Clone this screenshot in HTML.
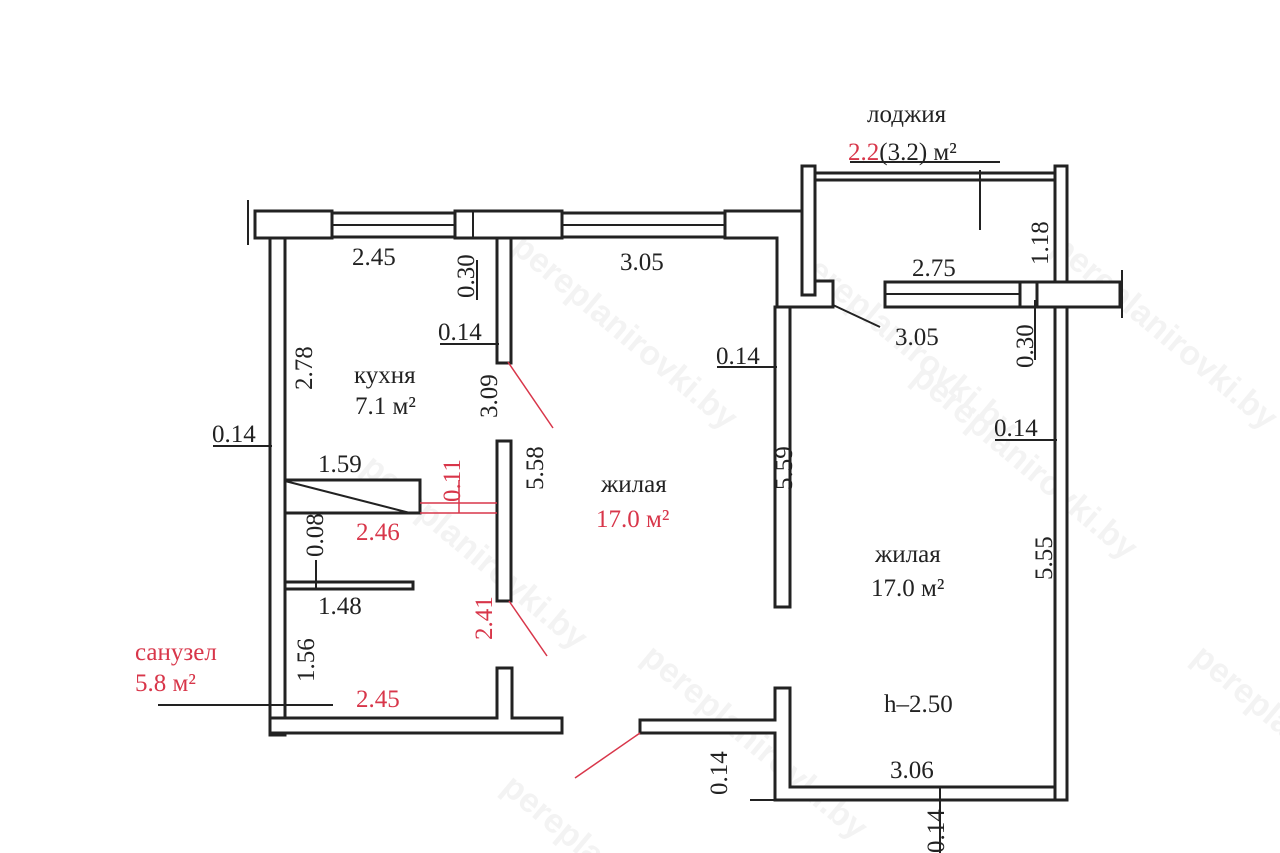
<!DOCTYPE html>
<html><head><meta charset="utf-8"><style>
html,body{margin:0;padding:0;background:#fff;width:1280px;height:853px;overflow:hidden}
svg{display:block}
text{font-family:"Liberation Serif",serif;font-size:25px;fill:#222}
.r{fill:#d8364a}
.w{fill:#fff;stroke:#222;stroke-width:3}
.l{stroke:#222;stroke-width:2;fill:none}
.rl{stroke:#d8364a;stroke-width:1.5;fill:none}
.wm{font-family:"Liberation Sans",sans-serif;font-size:34px;font-weight:bold;fill:#f3f3f3}
</style></head><body>
<svg width="1280" height="853" viewBox="0 0 1280 853">
<g>
<text class="wm" transform="translate(510,250) rotate(40)">pereplanirovki.by</text>
<text class="wm" transform="translate(790,260) rotate(40)">pereplanirovki.by</text>
<text class="wm" transform="translate(910,380) rotate(40)">pereplanirovki.by</text>
<text class="wm" transform="translate(1050,250) rotate(40)">pereplanirovki.by</text>
<text class="wm" transform="translate(360,470) rotate(40)">pereplanirovki.by</text>
<text class="wm" transform="translate(640,660) rotate(40)">pereplanirovki.by</text>
<text class="wm" transform="translate(500,790) rotate(40)">pereplanirovki.by</text>
<text class="wm" transform="translate(1190,660) rotate(40)">pereplanirovki.by</text>
</g>
<rect class="w" x="255" y="211" width="77" height="27"/>
<rect class="w" x="332" y="213" width="123" height="24"/>
<line class="l" x1="332" y1="225" x2="455" y2="225"/>
<rect class="w" x="455" y="211" width="107" height="27"/>
<line class="l" x1="473" y1="211" x2="473" y2="238"/>
<rect class="w" x="562" y="213" width="163" height="24"/>
<line class="l" x1="562" y1="225" x2="725" y2="225"/>
<path class="w" d="M725 211 H802 V281 H833 V307 H777 V238 H725 Z"/>
<line class="l" x1="248" y1="200" x2="248" y2="245"/>
<rect class="w" x="802" y="166" width="13" height="129"/>
<path class="l" d="M802 295 H815"/>
<rect class="w" x="815" y="173" width="240" height="7"/>
<rect class="w" x="1055" y="166" width="12" height="634"/>
<line class="l" x1="980" y1="170" x2="980" y2="230"/>
<rect class="w" x="885" y="282" width="135" height="25"/>
<line class="l" x1="885" y1="294" x2="1020" y2="294"/>
<rect class="w" x="1020" y="282" width="17" height="25"/>
<rect class="w" x="1037" y="282" width="83" height="25"/>
<line class="l" x1="1122" y1="270" x2="1122" y2="318"/>
<line class="l" x1="833" y1="305" x2="880" y2="327"/>
<rect class="w" x="270" y="238" width="15" height="497"/>
<path class="w" d="M270 718 H497 V668 H512 V718 H562 V733 H270 Z"/>
<rect class="w" x="497" y="238" width="14" height="125"/>
<rect class="w" x="497" y="441" width="14" height="160"/>
<rect class="w" x="775" y="307" width="15" height="300"/>
<path class="w" d="M640 720 H775 V688 H790 V787 H1055 V800 H775 V733 H640 Z"/>
<line class="l" x1="940" y1="787" x2="940" y2="853"/>
<line class="l" x1="750" y1="800" x2="800" y2="800"/>
<rect class="w" x="285" y="480" width="135" height="33"/>
<line class="l" x1="285" y1="481" x2="410" y2="513"/>
<rect class="w" x="285" y="582" width="128" height="7"/>
<line class="l" x1="316" y1="560" x2="316" y2="590"/>
<line class="rl" x1="420" y1="503" x2="497" y2="503"/>
<line class="rl" x1="420" y1="513" x2="497" y2="513"/>
<line class="rl" x1="459" y1="480" x2="459" y2="513"/>
<line class="rl" x1="508" y1="362" x2="553" y2="428"/>
<line class="rl" x1="509" y1="601" x2="547" y2="656"/>
<line class="rl" x1="640" y1="733" x2="575" y2="778"/>
<line class="l" x1="213" y1="446" x2="272" y2="446"/>
<line class="l" x1="440" y1="344" x2="499" y2="344"/>
<line class="l" x1="717" y1="367" x2="777" y2="367"/>
<line class="l" x1="995" y1="440" x2="1057" y2="440"/>
<line class="l" x1="158" y1="705" x2="333" y2="705"/>
<line class="l" x1="850" y1="162" x2="1000" y2="162"/>
<line class="l" x1="477" y1="260" x2="477" y2="300"/>
<line class="l" x1="1035" y1="300" x2="1035" y2="360"/>
<text x="867" y="122">лоджия</text>
<text x="848" y="160"><tspan class="r">2.2</tspan>(3.2) м²</text>
<text x="352" y="265">2.45</text>
<text x="620" y="270">3.05</text>
<text x="912" y="276">2.75</text>
<text x="895" y="345">3.05</text>
<text x="438" y="340">0.14</text>
<text x="716" y="364">0.14</text>
<text x="994" y="436">0.14</text>
<text x="212" y="442">0.14</text>
<text x="318" y="472">1.59</text>
<text x="318" y="614">1.48</text>
<text x="354" y="383">кухня</text>
<text x="355" y="414">7.1 м²</text>
<text x="601" y="492">жилая</text>
<text class="r" x="596" y="527">17.0 м²</text>
<text x="875" y="562">жилая</text>
<text x="871" y="596">17.0 м²</text>
<text x="884" y="712">h–2.50</text>
<text x="890" y="778">3.06</text>
<text class="r" x="135" y="660">санузел</text>
<text class="r" x="135" y="691">5.8 м²</text>
<text class="r" x="356" y="540">2.46</text>
<text class="r" x="356" y="707">2.45</text>
<text transform="translate(474,298) rotate(-90)">0.30</text>
<text transform="translate(312,390) rotate(-90)">2.78</text>
<text transform="translate(497,418) rotate(-90)">3.09</text>
<text transform="translate(543,490) rotate(-90)">5.58</text>
<text transform="translate(792,490) rotate(-90)">5.59</text>
<text transform="translate(1048,265) rotate(-90)">1.18</text>
<text transform="translate(1033,368) rotate(-90)">0.30</text>
<text transform="translate(1052,580) rotate(-90)">5.55</text>
<text transform="translate(323,557) rotate(-90)">0.08</text>
<text transform="translate(314,682) rotate(-90)">1.56</text>
<text transform="translate(727,795) rotate(-90)">0.14</text>
<text transform="translate(944,853) rotate(-90)">0.14</text>
<text class="r" transform="translate(460,502) rotate(-90)">0.11</text>
<text class="r" transform="translate(492,640) rotate(-90)">2.41</text>
</svg>
</body></html>
